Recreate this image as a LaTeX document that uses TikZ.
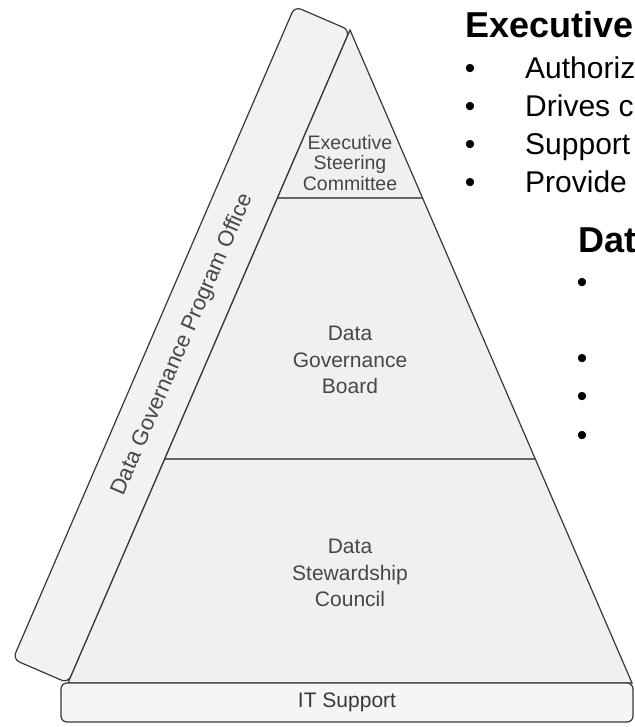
\documentclass[tikz,border=0pt]{standalone}
\usepackage{fontspec}
\setmainfont{Liberation Sans}
\usetikzlibrary{calc}
\begin{document}
\begin{tikzpicture}[x=1pt,y=1pt,
  outline/.style={draw=black!78, line width=1.2pt},
  bandbox/.style={draw=black!78, line width=1.2pt, fill=black!5, rounded corners=7pt},
  tier/.style={fill=black!6},
  sepline/.style={draw=black!60, line width=1.8pt},
  tierlabel/.style={text=black!72, align=center, inner sep=0pt},
  bul/.style={anchor=base, inner sep=0pt, font=\fontsize{30}{36}\selectfont},
  btxt/.style={anchor=base west, inner sep=0pt, font=\fontsize{30}{36}\selectfont},
  head/.style={anchor=base west, inner sep=0pt, font=\bfseries\fontsize{36}{42}\selectfont}]
\useasboundingbox (0,0) rectangle (634,727);
\coordinate (A) at (350,697);
\coordinate (BL) at (68,44);
\coordinate (BR) at (632,44);
% Program office band
\begin{scope}[shift={(BL)}, rotate=66.65]
  \draw[bandbox] (0,0) rectangle (711,60);
  \node[tierlabel, rotate=66.65, font=\fontsize{22}{24}\selectfont] (pmo) at (356,29) {Data Governance Program Office};
\end{scope}
% pyramid
\fill[tier] (A) -- (BL) -- (BR) -- cycle;
\coordinate (EL) at ($(A)!0.2573!(BL)$);
\coordinate (ER) at ($(A)!0.2573!(BR)$);
\coordinate (GL) at ($(A)!0.657!(BL)$);
\coordinate (GR) at ($(A)!0.657!(BR)$);
\draw[sepline] (EL) -- (ER);
\draw[sepline] (GL) -- (GR);
\draw[outline] (A) -- (BL) -- (BR) -- cycle;
\node[tierlabel, font=\fontsize{19.5}{20.5}\selectfont] (esc) at (350,564) {Executive\\Steering\\Committee};
\node[tierlabel, font=\fontsize{21}{26.5}\selectfont] (dgb) at (350,367) {Data\\Governance\\Board};
\node[tierlabel, font=\fontsize{21}{26.5}\selectfont] (dsc) at (350,154) {Data\\Stewardship\\Council};
% IT support
\node[draw=black!78, line width=1.2pt, fill=black!4, rounded corners=6pt, minimum width=572pt, minimum height=39pt, inner sep=0pt, text=black!78, font=\fontsize{21}{24}\selectfont] (its) at (347,24.5) {IT Support};
% right text
\node[head] (h1) at (465,689) {Executive};
\node[bul] (b1) at (470,648) {•};
\node[bul] (b2) at (470,610) {•};
\node[bul] (b3) at (470,572) {•};
\node[bul] (b4) at (470,534) {•};
\node[btxt] (t1) at (525,648) {Authoriz};
\node[btxt] (t2) at (525,610) {Drives c};
\node[btxt] (t3) at (525,572) {Support};
\node[btxt] (t4) at (525,534) {Provide};
\node[head] (h2) at (578,474) {Dat};
\node[bul] (c1) at (582,434) {•};
\node[bul] (c2) at (582,358) {•};
\node[bul] (c3) at (582,320) {•};
\node[bul] (c4) at (582,281) {•};
\end{tikzpicture}
\end{document}
